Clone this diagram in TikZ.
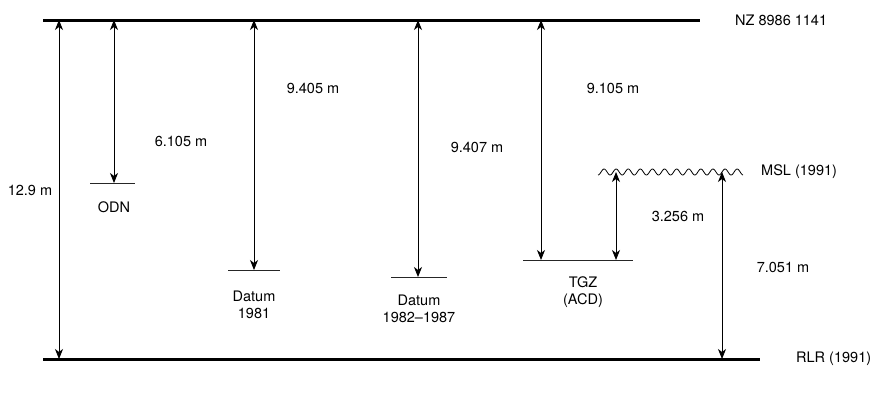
\documentclass[tikz,border=0pt]{standalone}
\usepackage{fontspec}
\setmainfont{TeX Gyre Heros}
\usetikzlibrary{arrows.meta,positioning}

\begin{document}
\begin{tikzpicture}[x=1pt,y=-1pt,
  font=\fontsize{14.5}{17}\selectfont,
  level/.style={line width=3pt},
  mark line/.style={line width=1pt,draw=black!85},
  dim/.style={{Stealth[length=10pt,width=8pt,inset=3pt]}-{Stealth[length=10pt,width=8pt,inset=3pt]},line width=0.9pt},
  lbl/.style={inner sep=1pt,align=center}]
\useasboundingbox (0,0) rectangle (875,400);

% main levels
\coordinate (nzL) at (43,20);  \coordinate (nzR) at (700,20);
\coordinate (rlrL) at (43,359); \coordinate (rlrR) at (760,359);
\draw[level] (nzL) -- (nzR);
\draw[level] (rlrL) -- (rlrR);
\node[lbl,anchor=west] (nz) at (734,20) {NZ 8986 1141};
\node[lbl,anchor=west] (rlr) at (795,359) {RLR (1991)};

% datum marks
\coordinate (odnL) at (90,183);  \coordinate (odnR) at (135,183);
\coordinate (d81L) at (228,270); \coordinate (d81R) at (280,270);
\coordinate (d82L) at (391,277); \coordinate (d82R) at (447,277);
\coordinate (tgzL) at (523,260); \coordinate (tgzR) at (633,260);
\draw[mark line] (odnL) -- (odnR);
\draw[mark line] (d81L) -- (d81R);
\draw[mark line] (d82L) -- (d82R);
\draw[mark line] (tgzL) -- (tgzR);
\node[lbl] (odn) at (114,207) {ODN};
\node[lbl] (d81) at (254,305) {Datum\\1981};
\node[lbl] (d82) at (419,309) {Datum\\1982--1987};
\node[lbl] (tgz) at (583,292) {TGZ\\(ACD)};

% mean sea level
\draw[line width=0.8pt] plot[domain=0:145,samples=200,smooth] ({598+\x},{172+3*cos(29.75*\x)});
\node[lbl,anchor=west] (msl) at (760,172) {MSL (1991)};

% dimension arrows
\coordinate (aT) at (59,20);  \coordinate (aB) at (59,359);
\coordinate (bT) at (114,20); \coordinate (bB) at (114,183);
\coordinate (cT) at (254,20); \coordinate (cB) at (254,270);
\coordinate (dT) at (418,20); \coordinate (dB) at (418,277);
\coordinate (eT) at (541,20); \coordinate (eB) at (541,260);
\coordinate (fT) at (616,172); \coordinate (fB) at (616,260);
\coordinate (gT) at (722,172); \coordinate (gB) at (722,359);
\draw[dim] (aT) -- (aB);
\draw[dim] (bT) -- (bB);
\draw[dim] (cT) -- (cB);
\draw[dim] (dT) -- (dB);
\draw[dim] (eT) -- (eB);
\draw[dim] (fT) -- (fB);
\draw[dim] (gT) -- (gB);

\node[lbl] (la) at (30,190) {12.9 m};
\node[lbl] (lb) at (181,141) {6.105 m};
\node[lbl] (lc) at (313,88) {9.405 m};
\node[lbl] (ld) at (477,147) {9.407 m};
\node[lbl] (le) at (613,88) {9.105 m};
\node[lbl] (lf) at (678,216) {3.256 m};
\node[lbl] (lg) at (783,267) {7.051 m};
\end{tikzpicture}
\end{document}
